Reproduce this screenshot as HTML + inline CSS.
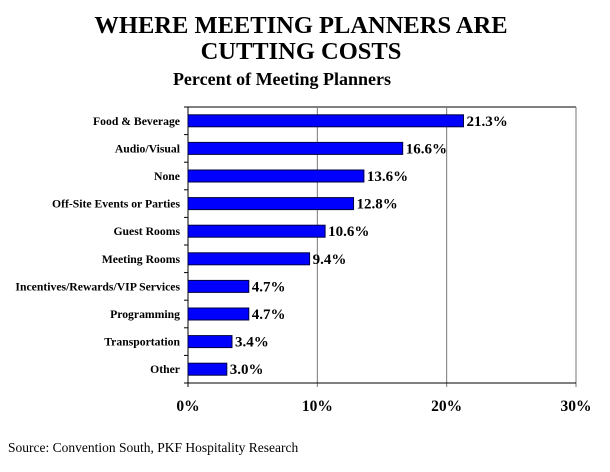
<!DOCTYPE html>
<html><head><meta charset="utf-8"><style>
body{margin:0;background:#fff;}
svg text{font-family:"Liberation Serif",serif;}
</style></head><body>
<svg width="610" height="467" xmlns="http://www.w3.org/2000/svg">
<text x="301" y="33" text-anchor="middle" font-size="24.5" font-weight="bold">WHERE MEETING PLANNERS ARE</text>
<text x="301" y="59" text-anchor="middle" font-size="24.5" font-weight="bold">CUTTING COSTS</text>
<text x="282" y="85" text-anchor="middle" font-size="18" font-weight="bold">Percent of Meeting Planners</text>
<g id="plot"></g>
<text x="8" y="452" font-size="13.5">Source: Convention South, PKF Hospitality Research</text>
</svg>
<script>
const categories=["Food & Beverage","Audio/Visual","None","Off-Site Events or Parties","Guest Rooms","Meeting Rooms","Incentives/Rewards/VIP Services","Programming","Transportation","Other"];
const values=[21.3,16.6,13.6,12.8,10.6,9.4,4.7,4.7,3.4,3.0];
const valueLabels=["21.3%","16.6%","13.6%","12.8%","10.6%","9.4%","4.7%","4.7%","3.4%","3.0%"];
const ticks=[0,10,20,30];
const tickLabels=["0%","10%","20%","30%"];
const NS="http://www.w3.org/2000/svg";
const g=document.getElementById('plot');
const x0=188,x1=576,y0=107,y1=383,xmax=30;
const xs=v=>x0+(v/xmax)*(x1-x0);
const band=(y1-y0)/categories.length;
const yc=i=>y0+band*(i+0.5);
function mk(t,a){const e=document.createElementNS(NS,t);for(const k in a)e.setAttribute(k,a[k]);g.appendChild(e);return e;}
let e=mk('line',{x1:x0,y1:y0,x2:x1,y2:y0,stroke:'#000','stroke-width':1});


ticks.forEach((t,i)=>{
 let l=mk('line',{x1:xs(t),y1:y0,x2:xs(t),y2:y1+4,stroke:i==0?'#000':'#777','stroke-width':1});
 
 
 let tx=mk('text',{x:xs(t),y:411,'text-anchor':'middle','font-size':15.5,'font-weight':'bold'});
 tx.textContent=tickLabels[i];
 
 
});
e=mk('line',{x1:x0,y1:y1,x2:x1,y2:y1,stroke:'#000','stroke-width':1});


for(let i=0;i<=categories.length;i++){
 let t=mk('line',{x1:x0-4,y1:y0+band*i,x2:x0,y2:y0+band*i,stroke:'#000'});
 
 
}
categories.forEach((c,i)=>{
 const y=yc(i);
 let r=mk('rect',{x:x0,y:y-6,width:xs(values[i])-x0,height:12,fill:'#0000ff',stroke:'#000040','stroke-width':1});
 
 
 let v=mk('text',{x:xs(values[i])+3,y:y+5,'font-size':15,'font-weight':'bold'});
 v.textContent=valueLabels[i];
 
 
 let lb=mk('text',{x:180,y:y+4,'text-anchor':'end','font-size':11.7,'font-weight':'bold'});
 lb.textContent=c;
 
 
});
</script>
</body></html>
